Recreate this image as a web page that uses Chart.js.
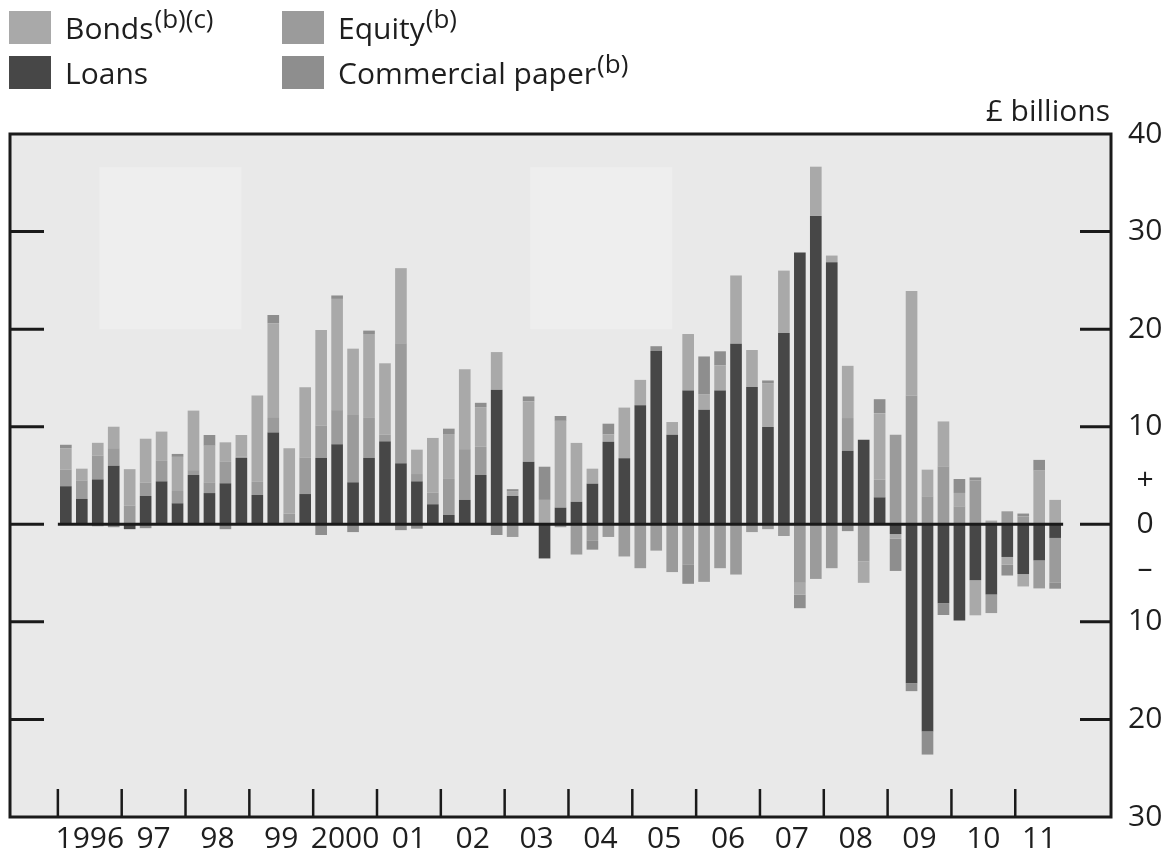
<!DOCTYPE html>
<html>
<head>
<meta charset="utf-8">
<script src="https://cdn.jsdelivr.net/npm/chart.js@4.4.1/dist/chart.umd.min.js"></script>
<style>
  body { margin: 0; background: #fff; font-family: "Open Sans", sans-serif; color: #1e1e1e; }
  #wrap { position: relative; width: 1174px; height: 854px; }
  canvas { position: absolute; left: 0; top: 0; }
  .key { position: absolute; font-size: 30px; line-height: 34px; white-space: nowrap; }
  .key i { position: absolute; left: -56px; top: 0px; width: 42px; height: 33px; }
  .key sup { font-size: 26px; line-height: 0; vertical-align: 0; position: relative; top: -11px; margin-left: 1px; }
  #unit { position: absolute; right: 64px; top: 89px; font-size: 30px; }
</style>
</head>
<body>
<div id="wrap">
  <canvas id="chart" width="1174" height="854"></canvas>
  <div class="key" style="left:65px;top:11px"><i style="background:#a9a9a9"></i>Bonds<sup>(b)(c)</sup></div>
  <div class="key" style="left:65px;top:56px"><i style="background:#474747"></i>Loans</div>
  <div class="key" style="left:338px;top:11px"><i style="background:#9b9b9b"></i>Equity<sup>(b)</sup></div>
  <div class="key" style="left:338px;top:56px"><i style="background:#8e8e8e"></i>Commercial paper<sup>(b)</sup></div>
  <div id="unit">£ billions</div>
</div>
<script>
// quarterly, 1996 Q1 to 2011 Q3
const yearLabels = ['1996', '97', '98', '99', '2000', '01', '02', '03', '04', '05', '06', '07', '08', '09', '10', '11'];
const quarters = [];
yearLabels.forEach((y, k) => {
  for (let q = 1; q <= 4; q++) {
    if (k === yearLabels.length - 1 && q > 3) break;
    quarters.push(y + ' Q' + q);
  }
});

const loans = [3.9, 2.6, 4.6, 6.0, -0.5, 2.9, 4.4, 2.15, 5.05, 3.2, 4.2, 6.8, 3.0, 9.4, 0, 3.1,
  6.8, 8.2, 4.3, 6.8, 8.5, 6.25, 4.4, 2.05, 0.95, 2.5, 5.05, 13.8, 2.9, 6.4, -3.5, 1.7,
  2.3, 4.16, 8.46, 6.76, 12.2, 17.75, 9.18, 13.7, 11.74, 13.7, 18.5, 14.06, 9.97, 19.6, 27.85, 31.6,
  26.86, 7.54, 8.67, 2.76, -1.0, -16.3, -21.2, -8.1, -9.86, -5.73, -7.2, -3.35, -5.1, -3.7, -1.4];
const equity = [1.7, 1.9, 2.45, 1.8, 1.9, 1.37, 2.1, 1.26, 0.5, 1.1, 2.2, 0.15, 1.4, 1.5, 1.1, 3.75,
  3.3, 3.5, 6.9, 4.1, 0.7, 12.3, 0.75, 1.2, 3.7, 5.2, 2.9, 0, -1.3, 0, 0, -0.3,
  -3.1, -1.7, -1.3, -3.3, -4.5, -2.7, -4.9, -4.1, -5.9, -4.5, -5.15, -0.8, -0.5, -1.2, -6.0, -5.6,
  -4.5, 3.35, -3.8, 1.8, 9.18, 13.2, 2.87, 5.94, 1.84, 4.5, -1.9, 1.33, 0.8, -2.87, -4.6];
const bonds = [2.2, 1.2, 1.3, 2.2, 3.75, 4.5, 3.0, 3.5, 6.1, 3.75, 2.0, 2.2, 8.8, 9.7, 6.7, 7.2,
  9.8, 11.4, 6.8, 8.6, 7.3, 7.7, 2.5, 5.6, 4.6, 8.2, 4.06, 3.85, 0.45, 6.2, 2.5, 8.9,
  6.04, 1.54, 0.75, 5.2, 2.6, 0, 1.3, 5.8, 1.6, 2.6, 7.0, 3.8, 4.5, 6.4, -1.2, 5.05,
  0.68, 5.35, -2.2, 6.83, -0.48, 10.7, 2.73, 4.6, 1.37, -3.6, 0.38, -0.8, -1.27, 5.5, 2.5];
const commercialPaper = [0.35, 0, -0.2, -0.3, 0, -0.4, 0, 0.3, 0, 1.1, -0.5, 0, 0, 0.85, 0, 0,
  -1.1, 0.35, -0.8, 0.35, 0, -0.6, -0.45, 0, 0.55, 0, 0.44, -1.1, 0.25, 0.5, 3.4, 0.5,
  0, -0.9, 1.1, 0, 0, 0.5, 0, -2.0, 3.86, 1.43, 0, 0, 0.27, 0, -1.4, 0,
  0, -0.7, 0, 1.43, -3.3, -0.8, -2.4, -1.2, 1.43, 0.3, 0, -1.1, 0.3, 1.1, -0.6];

const yTicks = [40, 30, 20, 10, 0, -10, -20, -30];

// two faint lighter panels behind the bars, in axis units [x0, x1, y0, y1]
const panels = [[2.1, 11.0, 20, 36.6], [29.1, 38.0, 20, 36.6]];

const pts = arr => arr.map((v, i) => ({ x: i, y: v }));

// where each year starts and its label sits (in quarter units)
const yearStart = k => 4 * k - 0.5;
const yearMid = k => (yearStart(k) + Math.min(4 * k + 3.5, quarters.length - 0.5)) / 2;

const frame = {
  id: 'frame',
  beforeDraw(chart) {
    const { ctx, chartArea: a, scales: { x, y } } = chart;
    ctx.save();
    ctx.fillStyle = '#e9e9e9';
    ctx.fillRect(a.left, a.top, a.right - a.left, a.bottom - a.top);
    ctx.fillStyle = '#eeeeee';
    panels.forEach(p => {
      const x0 = x.getPixelForValue(p[0]), x1 = x.getPixelForValue(p[1]);
      const y0 = y.getPixelForValue(p[3]), y1 = y.getPixelForValue(p[2]);
      ctx.fillRect(x0, y0, x1 - x0, y1 - y0);
    });
    ctx.restore();
  },
  afterDatasetsDraw(chart) {
    const { ctx, chartArea: a, scales: { x, y } } = chart;
    ctx.save();
    ctx.strokeStyle = '#1a1a1a';
    ctx.lineWidth = 3;
    const y0 = y.getPixelForValue(0);
    ctx.beginPath();
    ctx.moveTo(x.getPixelForValue(-0.5), y0);
    ctx.lineTo(x.getPixelForValue(quarters.length - 0.5), y0);
    ctx.stroke();

    yTicks.forEach(v => {
      if (v === yTicks[0] || v === yTicks[yTicks.length - 1]) return;
      const py = y.getPixelForValue(v);
      ctx.beginPath();
      ctx.moveTo(a.left, py); ctx.lineTo(a.left + 34, py);
      ctx.moveTo(a.right - 31, py); ctx.lineTo(a.right, py);
      ctx.stroke();
    });

    ctx.lineWidth = 2.5;
    yearLabels.forEach((l, k) => {
      const px = x.getPixelForValue(yearStart(k));
      ctx.beginPath();
      ctx.moveTo(px, a.bottom - 28); ctx.lineTo(px, a.bottom);
      ctx.stroke();
    });

    ctx.lineWidth = 3;
    ctx.strokeRect(a.left, a.top, a.right - a.left, a.bottom - a.top);

    ctx.fillStyle = '#1e1e1e';
    ctx.font = '30px "Open Sans"';
    ctx.textAlign = 'center';
    ctx.textBaseline = 'middle';
    const lx = y.left + 34;
    ctx.fillText('+', lx, y.getPixelForValue(4.5));
    ctx.fillText('\u2013', lx, y.getPixelForValue(-4.6));
    ctx.restore();
  }
};

Chart.defaults.font.family = '"Open Sans", sans-serif';
Chart.defaults.color = '#1e1e1e';

new Chart(document.getElementById('chart'), {
  type: 'bar',
  data: {
    datasets: [
      { label: 'Loans', data: pts(loans), backgroundColor: '#474747' },
      { label: 'Equity', data: pts(equity), backgroundColor: '#9b9b9b' },
      { label: 'Bonds', data: pts(bonds), backgroundColor: '#a9a9a9' },
      { label: 'Commercial paper', data: pts(commercialPaper), backgroundColor: '#8e8e8e' }
    ]
  },
  options: {
    responsive: false,
    animation: false,
    devicePixelRatio: 1,
    categoryPercentage: 1,
    barPercentage: 0.73,
    layout: { padding: { left: 10, right: 0, top: 134, bottom: 0 } },
    plugins: { legend: { display: false }, tooltip: { enabled: false } },
    scales: {
      x: {
        type: 'linear',
        stacked: true,
        offset: false,
        min: -3.5,
        max: 65.5,
        grid: { display: false, offset: false, drawTicks: false },
        border: { display: false },
        afterBuildTicks: s => { s.ticks = yearLabels.map((l, k) => ({ value: yearMid(k) })); },
        afterFit: s => { s.height = 37; },
        ticks: {
          autoSkip: false,
          maxRotation: 0,
          padding: 4,
          font: { size: 30 },
          callback: (v, i) => yearLabels[i]
        }
      },
      y: {
        position: 'right',
        stacked: true,
        min: -30,
        max: 40,
        grid: { display: false, drawTicks: false },
        border: { display: false },
        afterBuildTicks: s => { s.ticks = yTicks.map(v => ({ value: v })); },
        afterFit: s => { s.width = 63; },
        ticks: {
          crossAlign: 'center',
          padding: 17,
          font: { size: 30 },
          callback: v => Math.abs(v)
        }
      }
    }
  },
  plugins: [frame]
});
</script>
</body>
</html>
